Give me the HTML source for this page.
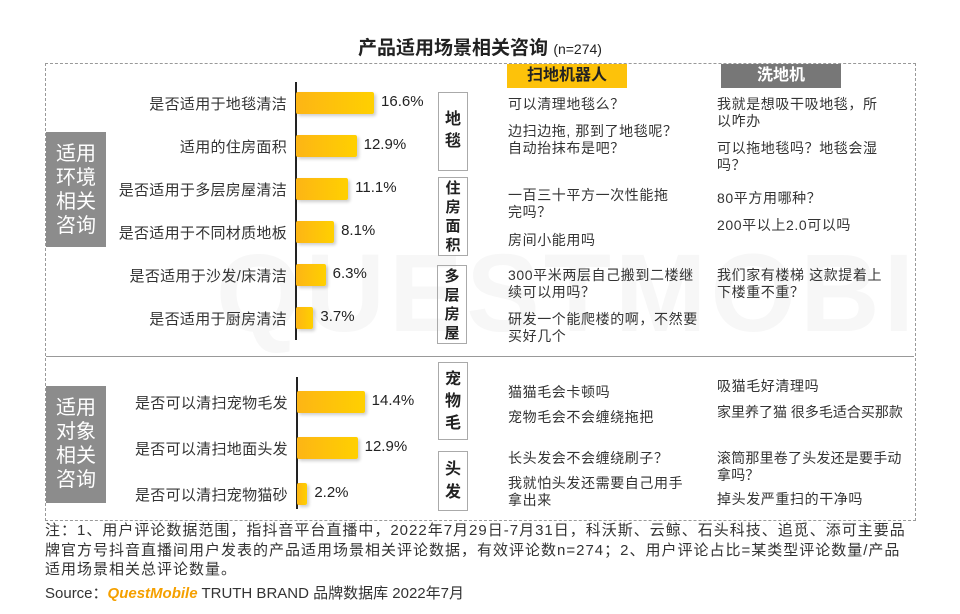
<!DOCTYPE html>
<html><head><meta charset="utf-8">
<style>
body{margin:0;width:960px;height:614px;background:#fff;font-family:"Liberation Sans","Noto Sans CJK SC",sans-serif;position:relative;overflow:hidden;color:#333}
.a{position:absolute}
.title{left:0;width:960px;top:33px;text-align:center;font-size:19px;font-weight:bold;color:#222}
.title span{font-size:14px;font-weight:normal}
.box{border:1px dashed #999}
.side{background:#8c8c8c;color:#fff;font-size:20px;line-height:24px;text-align:center;width:60px;padding-top:10px}
.cat{border:1px solid #aaa;font-size:16px;font-weight:bold;text-align:center;width:30px;color:#222;box-sizing:border-box}
.q{font-size:14px;line-height:17px;color:#333;letter-spacing:0.6px;white-space:nowrap}
.lbl{font-size:15px;text-align:right;width:270px;color:#333;letter-spacing:0.3px;white-space:nowrap}
.val{font-size:15px;color:#222}
.bar{height:22px;border-radius:2px;background:linear-gradient(90deg,#fdb515,#ffd000);box-shadow:2px 2px 3px rgba(0,0,0,0.2)}
.axis{width:1.5px;background:#222}
.wmwrap{left:46px;top:220px;width:868px;height:150px;overflow:hidden}
.wm{font-size:110px;font-weight:bold;color:#f7f7f7;position:absolute;left:170px;top:10px;letter-spacing:4px;white-space:nowrap}
</style></head><body>
<div class="a wmwrap"><div class="wm">QUESTMOBILE</div></div>
<div class="a title">产品适用场景相关咨询 <span>(n=274)</span></div>
<div class="a box" style="left:45px;top:63px;width:869px;height:456px"></div>
<div class="a" style="left:46px;top:356px;width:868px;height:1px;background:#999"></div>
<div class="a side" style="left:46px;top:132px;height:105px">适用<br>环境<br>相关<br>咨询</div>
<div class="a side" style="left:46px;top:386px;height:107px">适用<br>对象<br>相关<br>咨询</div>

<div class="a" style="left:507px;top:64px;width:120px;height:24px;background:#fdc20a;font-size:16px;font-weight:bold;text-align:center;line-height:24px;color:#222">扫地机器人</div>
<div class="a" style="left:721px;top:64px;width:120px;height:24px;background:#777;font-size:16px;font-weight:bold;text-align:center;line-height:24px;color:#fff">洗地机</div>

<div class="a cat" style="left:438px;top:92px;height:79px;padding-top:16px;line-height:22px">地<br>毯</div>
<div class="a cat" style="left:438px;top:177px;height:79px;padding-top:1px;line-height:19px;font-size:15px">住<br>房<br>面<br>积</div>
<div class="a cat" style="left:437px;top:265px;height:79px;padding-top:1px;line-height:19px;font-size:15px">多<br>层<br>房<br>屋</div>
<div class="a cat" style="left:438px;top:362px;height:78px;padding-top:6px;line-height:22px">宠<br>物<br>毛</div>
<div class="a cat" style="left:438px;top:451px;height:60px;padding-top:6px;line-height:23px">头<br>发</div>

<div class="a q" style="left:508px;top:96px">可以清理地毯么？</div>
<div class="a q" style="left:508px;top:123px">边扫边拖, 那到了地毯呢？<br>自动抬抹布是吧？</div>
<div class="a q" style="left:508px;top:187px">一百三十平方一次性能拖<br>完吗？</div>
<div class="a q" style="left:508px;top:232px">房间小能用吗</div>
<div class="a q" style="left:508px;top:267px">300平米两层自己搬到二楼继<br>续可以用吗？</div>
<div class="a q" style="left:508px;top:311px">研发一个能爬楼的啊，不然要<br>买好几个</div>
<div class="a q" style="left:508px;top:384px">猫猫毛会卡顿吗</div>
<div class="a q" style="left:508px;top:409px">宠物毛会不会缠绕拖把</div>
<div class="a q" style="left:508px;top:450px">长头发会不会缠绕刷子？</div>
<div class="a q" style="left:508px;top:475px">我就怕头发还需要自己用手<br>拿出来</div>

<div class="a q" style="left:717px;top:96px">我就是想吸干吸地毯，所<br>以咋办</div>
<div class="a q" style="left:717px;top:140px">可以拖地毯吗？地毯会湿<br>吗？</div>
<div class="a q" style="left:717px;top:190px">80平方用哪种？</div>
<div class="a q" style="left:717px;top:217px">200平以上2.0可以吗</div>
<div class="a q" style="left:717px;top:267px">我们家有楼梯 这款提着上<br>下楼重不重？</div>
<div class="a q" style="left:717px;top:378px">吸猫毛好清理吗</div>
<div class="a q" style="left:717px;top:404px;letter-spacing:0">家里养了猫 很多毛适合买那款</div>
<div class="a q" style="left:717px;top:450px;letter-spacing:0.2px">滚筒那里卷了头发还是要手动<br>拿吗？</div>
<div class="a q" style="left:717px;top:491px">掉头发严重扫的干净吗</div>

<div class="a" style="left:45px;top:521px;width:880px;font-size:15px;line-height:19.5px;letter-spacing:1px;color:#333;white-space:nowrap">注：1、用户评论数据范围，指抖音平台直播中，2022年7月29日-7月31日，科沃斯、云鲸、石头科技、追觅、添可主要品<br>牌官方号抖音直播间用户发表的产品适用场景相关评论数据，有效评论数n=274；2、用户评论占比=某类型评论数量/产品<br>适用场景相关总评论数量。</div>
<div class="a" style="left:45px;top:582px;font-size:15px;color:#333">Source：<b style="color:#f5a000;font-style:italic">QuestMobile</b> TRUTH BRAND 品牌数据库 2022年7月</div>

<div id="chart"></div>
<script>
const envCategories=["是否适用于地毯清洁","适用的住房面积","是否适用于多层房屋清洁","是否适用于不同材质地板","是否适用于沙发/床清洁","是否适用于厨房清洁"];
const envValues=[16.6,12.9,11.1,8.1,6.3,3.7];
const objCategories=["是否可以清扫宠物毛发","是否可以清扫地面头发","是否可以清扫宠物猫砂"];
const objValues=[14.4,12.9,2.2];
const pxPerPct=4.7;
const c=document.getElementById('chart');
function xScale(v){return v*pxPerPct;}
function draw(cats,vals,axisX,y0,step,top,h,key){
  const ax=document.createElement('div');ax.className='a axis';
  
  
  ax.style.left=axisX+'px';ax.style.top=top+'px';ax.style.height=h+'px';c.appendChild(ax);
  cats.forEach((cat,i)=>{
    const cy=y0+i*step;
    const l=document.createElement('div');l.className='a lbl';
    
    
    l.style.left=(axisX-278)+'px';l.style.top=(cy-10)+'px';l.textContent=cat;c.appendChild(l);
    const b=document.createElement('div');b.className='a bar';
    
    
    b.style.left=(axisX+1)+'px';b.style.top=(cy-11)+'px';b.style.width=xScale(vals[i])+'px';c.appendChild(b);
    const v=document.createElement('div');v.className='a val';
    
    
    v.style.left=(axisX+xScale(vals[i])+8)+'px';v.style.top=(cy-10)+'px';v.textContent=vals[i].toFixed(1)+'%';c.appendChild(v);
  });
}
draw(envCategories,envValues,295,103,43,82,258,'env');
draw(objCategories,objValues,296,402,46,377,132,'obj');
</script>
</body></html>
